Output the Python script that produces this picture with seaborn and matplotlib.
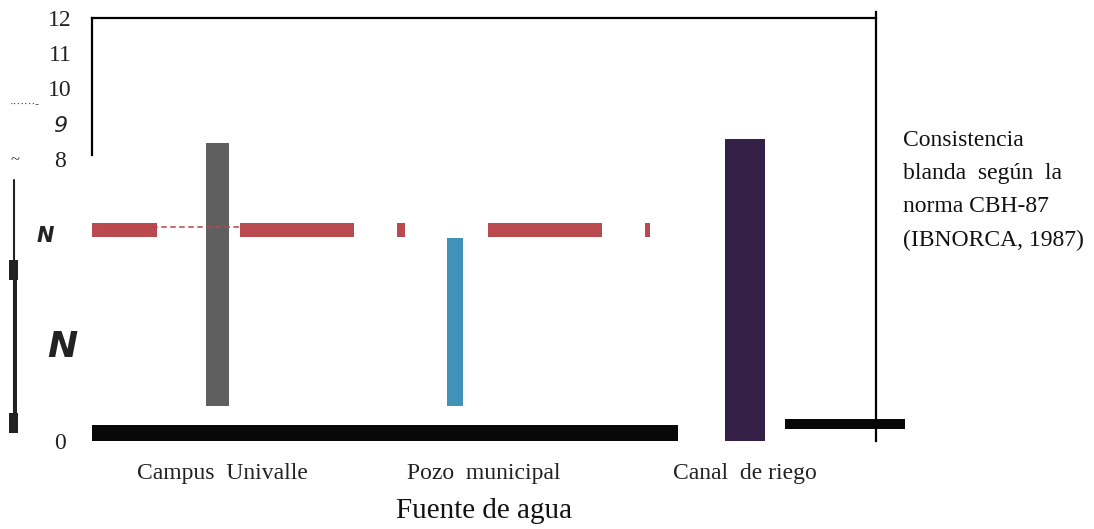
import numpy as np
import pandas as pd
import matplotlib
matplotlib.use("Agg")
import matplotlib.pyplot as plt
import seaborn as sns
from matplotlib.lines import Line2D
from matplotlib.patches import Rectangle

# ---------------- data ----------------
categories = ["Campus Univalle", "Pozo municipal", "Canal de riego"]
tick_text = ["Campus  Univalle", "Pozo  municipal", "Canal  de riego"]
bar_tops = [8.45, 5.75, 8.57]
bar_bottoms = [1.0, 1.0, 0.0]
bar_colors = ["#5f5f5f", "#4192b8", "#322047"]
threshold = 6.0
ytick_values = [0, 8, 9, 10, 11, 12]
ytick_labels = ["0", "8", "9", "10", "11", "12"]
base_band = [0.0, 0.45]
side_band = [0.34, 0.62]
note_lines = ["Consistencia", "blanda  según  la", "norma CBH-87", "(IBNORCA, 1987)"]

# ---------------- style ----------------
sns.set_theme(style="white")
plt.rcParams["font.family"] = ["Liberation Serif", "DejaVu Serif"]
plt.rcParams["lines.scale_dashes"] = False

W, H = 1094, 529
fig = plt.figure(figsize=(W / 100, H / 100), dpi=100)
ax = fig.add_axes([92 / W, 1 - 441 / H, 784 / W, 423 / H])

df = pd.DataFrame({"fuente": categories, "valor": bar_tops})
sns.barplot(data=df, x="fuente", y="valor", hue="fuente", palette=bar_colors,
            saturation=1, width=0.15, legend=False, ax=ax, order=categories)

# floating bars: reshape patches from the data arrays
bar_widths = [0.09, 0.06, 0.153]
bar_shift = [-0.02, -0.11, 0.0]
patches = list(ax.patches)
for i, p in enumerate(patches):
    p.set_y(bar_bottoms[i])
    p.set_height(bar_tops[i] - bar_bottoms[i])
    p.set_x(i + bar_shift[i] - bar_widths[i] / 2)
    p.set_width(bar_widths[i])
    p.set_edgecolor("none")

ax.set_ylim(0, 12)
ax.set_xlim(-0.5, 2.5)

# thick red dashed threshold line
px = 100 / 72
dash_px = [65, 83, 114, 43, 8, 83, 114, 43, 60, 400]
ax.axhline(threshold, xmin=0, xmax=(650 - 92) / 784, color="#b94a4f",
           lw=14 / px, dashes=[d / px for d in dash_px], solid_capstyle="butt",
           dash_capstyle="butt", zorder=3)
ax.axhline(threshold + 0.08, xmin=(107 - 92) / 784, xmax=(240 - 92) / 784,
           color="#c0424a", lw=1.1, dashes=[4, 2.5], zorder=4)

# black base bands
b1 = ax.axhspan(base_band[0], base_band[1], xmin=0, xmax=(678 - 92) / 784,
                color="#080808", lw=0, zorder=3)
b2 = ax.axhspan(side_band[0], side_band[1], xmin=(785 - 92) / 784, xmax=(905 - 92) / 784,
                color="#080808", lw=0, zorder=3)
b2.set_clip_on(False)

# spines
for s in ["top", "right", "left"]:
    ax.spines[s].set_visible(True)
    ax.spines[s].set_color("black")
    ax.spines[s].set_linewidth(1.6)
ax.spines["bottom"].set_visible(False)
ax.spines["left"].set_bounds(8.1, 12)
ax.spines["right"].set_bounds(0, 12.17)

# ticks
ax.set_yticks(ytick_values)
ax.set_yticklabels(ytick_labels)
ax.tick_params(axis="y", length=0, pad=23, labelsize=17)
for t in ax.get_yticklabels():
    t.set_horizontalalignment("center")
    t.set_color("#222222")
    if t.get_text() == "9":
        t.set_family("DejaVu Sans")
        t.set_style("italic")
        t.set_fontsize(16)
ax.set_xticks(range(len(categories)))
ax.set_xticklabels(tick_text)
ax.tick_params(axis="x", length=0, pad=16, labelsize=17)
for t in ax.get_xticklabels():
    t.set_color("#222222")
ax.set_xlabel("Fuente de agua", fontsize=21, labelpad=10, color="#111111")
ax.set_ylabel("")

# right-hand note
for k, line in enumerate(note_lines):
    fig.text(903 / W, 1 - (140 + 33.5 * k) / H, line, fontsize=17, va="center",
             ha="left", color="#111111")

# garbled left-side remnants of the y label
fig.text(15 / W, 1 - 160 / H, "~", fontsize=12, ha="center", va="center", color="#333333")
fig.text(45 / W, 1 - 236 / H, "N", fontsize=15, ha="center", va="center",
         family="DejaVu Sans", weight="bold", style="italic", color="#222222")
fig.text(62 / W, 1 - 347 / H, "N", fontsize=26, ha="center", va="center",
         family="DejaVu Sans", weight="bold", style="italic", color="#222222")
fig.text(25 / W, 1 - 104 / H, "·······-", fontsize=8, ha="center", va="center", color="#333333")
fig.add_artist(Line2D([14 / W, 14 / W], [1 - 180 / H, 1 - 432 / H], color="#222222", lw=1.5))
fig.add_artist(Rectangle((9 / W, 1 - 280 / H), 9 / W, 20 / H, color="#222222", lw=0))
fig.add_artist(Rectangle((9 / W, 1 - 433 / H), 9 / W, 20 / H, color="#222222", lw=0))
fig.add_artist(Rectangle((13 / W, 1 - 433 / H), 4 / W, 170 / H, color="#222222", lw=0))

fig.savefig("out.png", dpi=100)
